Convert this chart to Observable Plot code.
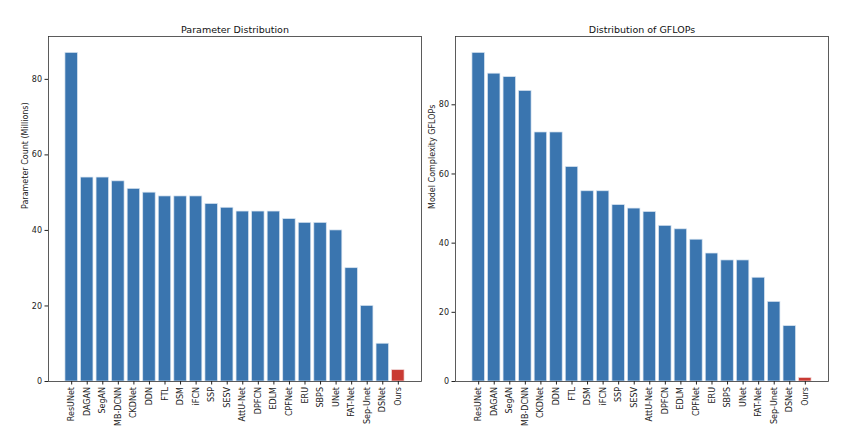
<!DOCTYPE html>
<html><head><meta charset="utf-8">
<script src="https://cdn.jsdelivr.net/npm/d3@7"></script>
<script src="https://cdn.jsdelivr.net/npm/@observablehq/plot@0.6"></script>
<style>body{margin:0;background:#fff} #wrap{display:flex;width:848px;height:432px}</style>
</head><body><div id="wrap"></div>
<script>
const models = ["ResUNet","DAGAN","SegAN","MB-DCNN","CKDNet","DDN","FTL","DSM","iFCN","SSP","SESV","AttU-Net","DPFCN","EDLM","CPFNet","ERU","SBPS","UNet","FAT-Net","Sep-Unet","DSNet","Ours"];
const params = [87,54,54,53,51,50,49,49,49,47,46,45,45,45,43,42,42,40,30,20,10,3];
const gflops = [95,89,88,84,72,72,62,55,55,51,50,49,45,44,41,37,35,35,30,23,16,1];
const yTicks = [0,20,40,60,80];
const titles = ["Parameter Distribution","Distribution of GFLOPs"];
const yLabels = ["Parameter Count (Millions)","Model Complexity GFLOPs"];

function chart(values, title, ylabel, ml, mr) {
  const data = models.map((m,i)=>({model:m, value:values[i]}));
  const ymax = d3.max(values) * 1.05;
  return Plot.plot({
    width:424, height:432, marginLeft:ml, marginRight:mr, marginTop:36, marginBottom:51,
    style:{fontFamily:"DejaVu Sans", fontSize:"8px", color:"#222", background:"white", overflow:"visible"},
    x:{domain:models, paddingInner:0.2, paddingOuter:1.09, round:false, label:null},
    y:{domain:[0,ymax], label:null},
    marks:[
      Plot.barY(data.filter(d=>d.model!=="Ours"),{x:"model", y:"value", fill:"#3a75af", stroke:"#d6e3f0", strokeWidth:0.7}),
      Plot.barY(data.filter(d=>d.model==="Ours"),{x:"model", y:"value", fill:"#c93a33", stroke:"#f0d6d6", strokeWidth:0.7}),
      Plot.frame({stroke:"#333", strokeWidth:0.8}),
      Plot.axisY({ticks:yTicks, tickSize:3.5, tickPadding:3, label:null, fontSize:8}),
      Plot.axisX({tickRotate:-90, tickSize:3.5, tickPadding:2, label:null, fontSize:8}),
      Plot.text([title],{frameAnchor:"top", dy:-10, fontSize:9.5, fill:"#111"}),
      Plot.text([ylabel],{frameAnchor:"left", dx:-23, rotate:-90, fontSize:8, fill:"#222"})
    ]
  });
}
const wrap = document.getElementById("wrap");
wrap.appendChild(chart(params, titles[0], yLabels[0], 48, 3));
wrap.appendChild(chart(gflops, titles[1], yLabels[1], 31, 20));
</script></body></html>
